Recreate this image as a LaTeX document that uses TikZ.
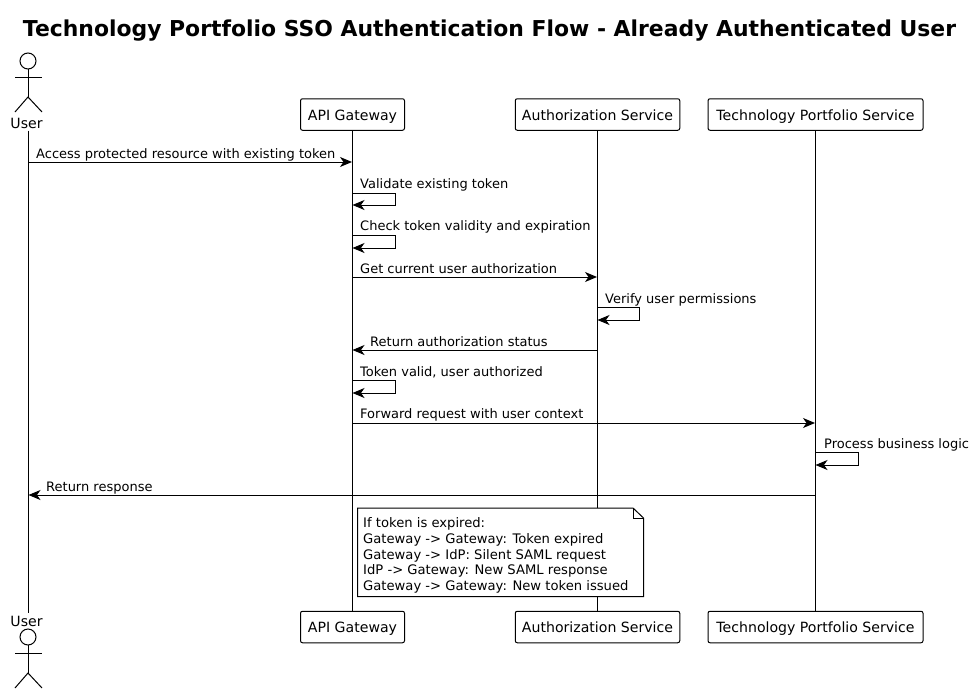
\documentclass[tikz,border=0pt]{standalone}
\usepackage{fontspec}
\setmainfont{DejaVu Sans}
\usetikzlibrary{arrows.meta}

\begin{document}
\begin{tikzpicture}[x=1pt,y=-1pt]

    \tikzstyle{part} = [draw, rounded corners=2pt, fill=white, line width=1pt, font=\fontsize{14.1}{16}\selectfont,
        minimum height=31.5pt, inner sep=0pt, text height=11pt, text depth=0pt]
    \tikzstyle{who} = [font=\fontsize{14.1}{16}\selectfont, inner sep=0pt, minimum height=15pt]
    \tikzstyle{life} = [line width=1pt]
    \tikzstyle{msg} = [line width=1pt, -{Stealth[length=12pt,width=10pt,inset=3.5pt]}]
    \tikzstyle{ann} = [font=\fontsize{13}{15.7}\selectfont, anchor=base west, inner sep=0pt]

    \useasboundingbox (0,0) rectangle (974,693);

    % Title
    \node[font=\fontsize{21.9}{26}\selectfont\bfseries] (title) at (489.5,31) {Technology Portfolio SSO Authentication Flow - Already Authenticated User};

    % Participants, top and bottom
    \node[who] (usertop) at (26.5,123) {User};
    \node[who] (userbot) at (26.5,621) {User};
    \node[part, minimum width=104pt] (gwtop) at (352.5,114.5) {API Gateway};
    \node[part, minimum width=104pt] (gwbot) at (352.5,627) {API Gateway};
    \node[part, minimum width=164.5pt] (authtop) at (597.5,114.5) {Authorization Service};
    \node[part, minimum width=215pt] (techtop) at (815.5,114.5) {Technology Portfolio Service};
    \node[part, minimum width=164.5pt] (authbot) at (597.5,627) {Authorization Service};
    \node[part, minimum width=215pt] (techbot) at (815.5,627) {Technology Portfolio Service};

    % Actors
    \draw[life] (28,61) circle (8);
    \draw[life] (15,77) -- (42,77);
    \draw[life] (28,69) -- (28,97);
    \draw[life] (15,112) -- (28,97) -- (42,112);

    \draw[life] (28,637) circle (8);
    \draw[life] (15,653) -- (42,653);
    \draw[life] (28,645) -- (28,673);
    \draw[life] (15,688) -- (28,673) -- (42,688);

    % Ends of the messages
    \coordinate (u1) at (28,162);
    \coordinate (g1) at (352,162);
    \coordinate (g2a) at (352,193);
    \coordinate (g2b) at (352.5,205);
    \coordinate (g3a) at (352,235);
    \coordinate (g3b) at (352.5,248);
    \coordinate (g4) at (352,277);
    \coordinate (a4) at (597,277);
    \coordinate (a5a) at (597,307);
    \coordinate (a5b) at (597.5,320);
    \coordinate (a6) at (597,350);
    \coordinate (g6) at (352.5,350);
    \coordinate (g7a) at (352,380);
    \coordinate (g7b) at (352.5,393);
    \coordinate (g8) at (352,423);
    \coordinate (t8) at (815,423);
    \coordinate (t9a) at (815,452);
    \coordinate (t9b) at (815.5,465);
    \coordinate (t10) at (815,495);
    \coordinate (u10) at (28.5,495);

    % Lifelines
    \draw[life] (usertop.south -| u1) -- (userbot.north -| u1);
    \draw[life] (gwtop) -- (gwbot);
    \draw[life] (authtop) -- (authbot);
    \draw[life] (techtop) -- (techbot);

    % Messages
    \draw[msg] (u1) -- (g1);
    \node[ann] (l1) at (36,158) {Access protected resource with existing token};

    \draw[msg] (g2a) -- ++(43,0) -- ++(0,12) -- (g2b);
    \node[ann] (l2) at (360,188) {Validate existing token};

    \draw[msg] (g3a) -- ++(43,0) -- ++(0,13) -- (g3b);
    \node[ann] (l3) at (360,230) {Check token validity and expiration};

    \draw[msg] (g4) -- (a4);
    \node[ann] (l4) at (360,273) {Get current user authorization};

    \draw[msg] (a5a) -- ++(42.5,0) -- ++(0,13) -- (a5b);
    \node[ann] (l5) at (605,303) {Verify user permissions};

    \draw[msg] (a6) -- (g6);
    \node[ann] (l6) at (370,346) {Return authorization status};

    \draw[msg] (g7a) -- ++(43,0) -- ++(0,13) -- (g7b);
    \node[ann] (l7) at (360,376) {Token valid, user authorized};

    \draw[msg] (g8) -- (t8);
    \node[ann] (l8) at (360,418) {Forward request with user context};

    \draw[msg] (t9a) -- ++(43,0) -- ++(0,13) -- (t9b);
    \node[ann] (l9) at (824,448) {Process business logic};

    \draw[msg] (t10) -- (u10);
    \node[ann] (l10) at (46,491) {Return response};

    % Note
    \draw[life, fill=white] (357.5,508) -- (633,508) -- (643.5,518) -- (643.5,596.5) -- (357.5,596.5) -- cycle;
    \draw[life] (633,508) -- (633,518) -- (643.5,518);
    \node[ann, font=\fontsize{13.15}{15.7}\selectfont, align=left, anchor=north west] (note) at (363,517.5) {If token is expired:\\
        Gateway -> Gateway: Token expired\\
        Gateway -> IdP: Silent SAML request\\
        IdP -> Gateway: New SAML response\\
        Gateway -> Gateway: New token issued};

\end{tikzpicture}
\end{document}
